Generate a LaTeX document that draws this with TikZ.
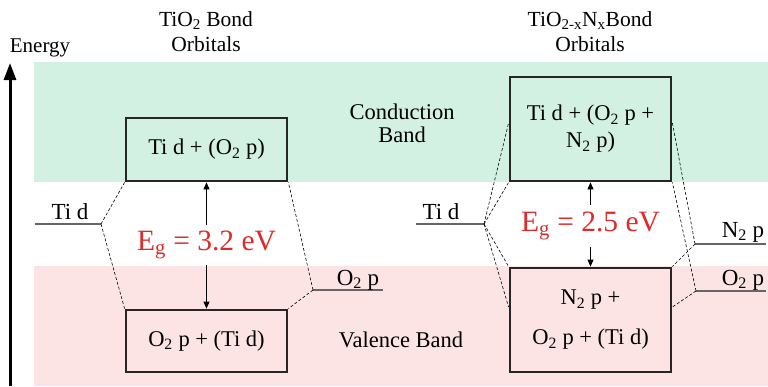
\documentclass[tikz,border=0pt]{standalone}
\usepackage{fontspec}
\setmainfont{Liberation Serif}
\usetikzlibrary{arrows.meta,positioning}
\definecolor{cbgreen}{HTML}{D3F1E3}
\definecolor{vbpink}{HTML}{FDE4E4}
\definecolor{egred}{HTML}{DD2A2A}
\definecolor{levelgray}{HTML}{666666}

\begin{document}
\begin{tikzpicture}[x=1pt,y=-1pt,
  orb/.style={rectangle,draw=black!85,line width=2.8pt,minimum width=161pt,align=center,font=\fontsize{22.5}{27}\selectfont,inner sep=0pt},
  lvl/.style={draw=levelgray,line width=1.2pt},
  lvllabel/.style={font=\fontsize{23}{25}\selectfont,inner sep=0pt,anchor=base},
  title/.style={align=center,font=\fontsize{21.5}{25}\selectfont,inner sep=0pt},
  band/.style={align=center,font=\fontsize{22.5}{23}\selectfont,inner sep=0pt},
  conn/.style={line width=0.6pt,dash pattern=on 3pt off 2pt},
  gaparr/.style={-{Triangle[length=7pt,width=6pt]},line width=0.8pt},
  eg/.style={text=egred,font=\fontsize{29.5}{30}\selectfont,inner xsep=0pt},
  energyarr/.style={-{Triangle[length=17pt,width=12pt]},line width=3pt}
]
\useasboundingbox (0,0) rectangle (768,386);
\fill[cbgreen] (34,62) rectangle (768,182);
\fill[vbpink] (34,266) rectangle (768,386);

\coordinate (ebase) at (10,386);
\coordinate (etop) at (10,63);
\draw[energyarr] (ebase) -- (etop);
\node[font=\fontsize{21}{25}\selectfont,inner sep=0pt] (energy) at (40,48) {Energy};

\node[title] (titleL) at (206,32) {TiO\textsubscript{2} Bond\\Orbitals};
\node[title] (titleR) at (590,32) {TiO\textsubscript{2-x}N\textsubscript{x}Bond\\Orbitals};

\node[orb,minimum height=63pt] (cbL) at (206.5,149.5) {Ti d + (O\textsubscript{2} p)};
\node[orb,minimum height=62pt] (vbL) at (206.5,341) {O\textsubscript{2} p + (Ti d)};
\node[orb,minimum height=104pt] (cbR) at (590.5,129) {Ti d + (O\textsubscript{2} p +\\N\textsubscript{2} p)};
\node[orb,minimum height=104pt] (vbR) at (590.5,320) {N\textsubscript{2} p +\\[13pt]O\textsubscript{2} p + (Ti d)};

\node[band] (cband) at (402,123) {Conduction\\Band};
\node[band] (vband) at (401,340) {Valence Band};

\coordinate (tidLa) at (35,224);  \coordinate (tidL) at (101,224);
\coordinate (o2Lb) at (383,290);  \coordinate (o2L) at (313,290);
\coordinate (tidRa) at (416,224); \coordinate (tidR) at (484,224);
\coordinate (n2Rb) at (766,244);  \coordinate (n2R) at (695,244);
\coordinate (o2Rb) at (766,291);  \coordinate (o2R) at (696,291);
\draw[lvl] (tidLa) -- (tidL);
\draw[lvl] (o2L) -- (o2Lb);
\draw[lvl] (tidRa) -- (tidR);
\draw[lvl] (n2R) -- (n2Rb);
\draw[lvl] (o2R) -- (o2Rb);
\node[lvllabel] (tidLlab) at (70,219) {Ti d};
\node[lvllabel] (o2Llab) at (358,285) {O\textsubscript{2} p};
\node[lvllabel] (tidRlab) at (441,219) {Ti d};
\node[lvllabel] (n2Rlab) at (743,237) {N\textsubscript{2} p};
\node[lvllabel] (o2Rlab) at (743,285) {O\textsubscript{2} p};

\draw[conn] (tidL) -- (cbL.south west);
\draw[conn] (tidL) -- (vbL.north west);
\draw[conn] (o2L) -- (cbL.south east);
\draw[conn] (o2L) -- (vbL.north east);
\draw[conn] (tidR) -- ([yshift=6pt]cbR.west);
\draw[conn] (tidR) -- (cbR.south west);
\draw[conn] (tidR) -- (vbR.north west);
\draw[conn] (tidR) -- ([yshift=13pt]vbR.west);
\draw[conn] (n2R) -- ([yshift=6pt]cbR.east);
\draw[conn] (n2R) -- (vbR.north east);
\draw[conn] (o2R) -- (cbR.south east);
\draw[conn] (o2R) -- ([yshift=13pt]vbR.east);

\node[eg,inner ysep=6pt] (egL) at (206.5,245) {E\textsubscript{g} = 3.2 eV};
\node[eg,inner ysep=7pt] (egR) at (590.5,226) {E\textsubscript{g} = 2.5 eV};
\draw[gaparr] (egL) -- (cbL);
\draw[gaparr] (egL) -- (vbL);
\draw[gaparr] (egR) -- (cbR);
\draw[gaparr] (egR) -- (vbR);
\end{tikzpicture}
\end{document}
